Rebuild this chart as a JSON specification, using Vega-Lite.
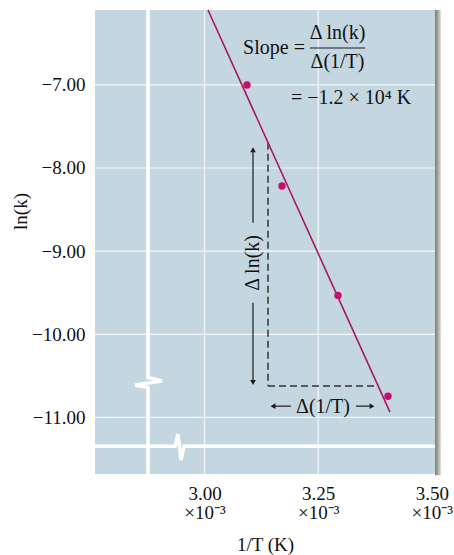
{
  "$schema": "https://vega.github.io/schema/vega-lite/v6.json",
  "width": 340,
  "height": 464,
  "autosize": {"type": "none"},
  "padding": {"left": 95, "top": 10, "right": 19, "bottom": 81},
  "background": "white",
  "config": {
    "view": {"fill": "#c4d7e1", "stroke": null},
    "font": "Liberation Serif"
  },
  "datasets": {
    "grid": [
      {"x": 3.0, "y": -6.1, "x2": 3.0, "y2": -11.68},
      {"x": 3.25, "y": -6.1, "x2": 3.25, "y2": -11.68},
      {"x": 2.759, "y": -7, "x2": 3.507, "y2": -7},
      {"x": 2.759, "y": -8, "x2": 3.507, "y2": -8},
      {"x": 2.759, "y": -9, "x2": 3.507, "y2": -9},
      {"x": 2.759, "y": -10, "x2": 3.507, "y2": -10},
      {"x": 2.759, "y": -11, "x2": 3.507, "y2": -11}
    ],
    "breaks": [
      {"seg": "v", "ord": 0, "x": 2.8756, "y": -6.1},
      {"seg": "v", "ord": 1, "x": 2.8756, "y": -10.52},
      {"seg": "v", "ord": 2, "x": 2.9064, "y": -10.561},
      {"seg": "v", "ord": 3, "x": 2.847, "y": -10.61},
      {"seg": "v", "ord": 4, "x": 2.8756, "y": -10.64},
      {"seg": "v", "ord": 5, "x": 2.8756, "y": -11.68},
      {"seg": "h", "ord": 0, "x": 2.759, "y": -11.345},
      {"seg": "h", "ord": 1, "x": 2.935, "y": -11.345},
      {"seg": "h", "ord": 2, "x": 2.9416, "y": -11.2},
      {"seg": "h", "ord": 3, "x": 2.9482, "y": -11.513},
      {"seg": "h", "ord": 4, "x": 2.9548, "y": -11.345},
      {"seg": "h", "ord": 5, "x": 3.507, "y": -11.345}
    ],
    "shadow": [{"x": 3.507, "x2": 3.521, "y": -6.1, "y2": -11.695}],
    "fit": [{"x": 3.0076, "y": -6.1, "x2": 3.408, "y2": -10.936}],
    "dashes": [
      {"x": 3.1396, "y": -7.695, "x2": 3.1396, "y2": -10.623},
      {"x": 3.1396, "y": -10.623, "x2": 3.382, "y2": -10.623}
    ],
    "shafts": [
      {"x": 3.1066, "y": -7.78, "x2": 3.1066, "y2": -8.66},
      {"x": 3.1066, "y": -9.62, "x2": 3.1066, "y2": -10.58},
      {"x": 3.1506, "y": -10.864, "x2": 3.19, "y2": -10.864},
      {"x": 3.333, "y": -10.864, "x2": 3.3684, "y2": -10.864},
      {"x": 3.232, "y": -6.557, "x2": 3.353, "y2": -6.557}
    ],
    "heads": [
      {"x": 3.1066, "y": -7.78, "shape": "triangle-up"},
      {"x": 3.1066, "y": -10.58, "shape": "triangle-down"},
      {"x": 3.1506, "y": -10.864, "shape": "triangle-left"},
      {"x": 3.3684, "y": -10.864, "shape": "triangle-right"}
    ],
    "texts": [
      {"x": 3.1528, "y": -6.557, "label": "Slope ="},
      {"x": 3.2925, "y": -6.38, "label": "Δ ln(k)"},
      {"x": 3.2925, "y": -6.72, "label": "Δ(1/T)"},
      {"x": 3.3222, "y": -7.16, "label": "= −1.2 × 10⁴ K"},
      {"x": 3.2606, "y": -10.876, "label": "Δ(1/T)"}
    ],
    "rtexts": [
      {"x": 3.1066, "y": -9.141, "label": "Δ ln(k)"}
    ],
    "points": [
      {"x": 3.0934, "y": -7.002},
      {"x": 3.1704, "y": -8.217},
      {"x": 3.2936, "y": -9.532},
      {"x": 3.4036, "y": -10.744}
    ]
  },
  "encoding": {
    "x": {
      "field": "x",
      "type": "quantitative",
      "scale": {"domain": [2.759, 3.507], "nice": false, "zero": false},
      "axis": {
        "title": "1/T (K)",
        "values": [3.0, 3.25, 3.5],
        "labelExpr": "[format(datum.value, '.2f'), '×10⁻³']",
        "grid": false,
        "ticks": false,
        "domain": false,
        "labelFont": "Liberation Serif",
        "labelFontSize": 19,
        "labelColor": "#111111",
        "labelPadding": 10,
        "labelLineHeight": 19,
        "labelFlush": false,
        "labelOverlap": false,
        "labelBaseline": "top",
        "titleFont": "Liberation Serif",
        "titleFontSize": 19,
        "titleFontWeight": "normal",
        "titleColor": "#111111",
        "titleY": 61,
        "titleBaseline": "top"
      }
    },
    "y": {
      "field": "y",
      "type": "quantitative",
      "scale": {"domain": [-11.68, -6.1], "nice": false, "zero": false},
      "axis": {
        "title": "ln(k)",
        "values": [-7, -8, -9, -10, -11],
        "format": ".2f",
        "grid": false,
        "ticks": false,
        "domain": false,
        "labelFont": "Liberation Serif",
        "labelFontSize": 19,
        "labelColor": "#111111",
        "labelPadding": 10,
        "titleFont": "Liberation Serif",
        "titleFontSize": 19,
        "titleFontWeight": "normal",
        "titleColor": "#111111",
        "titleX": -75,
        "titleY": 201,
        "titleBaseline": "middle"
      }
    }
  },
  "layer": [
    {
      "data": {"name": "grid"},
      "mark": {"type": "rule", "color": "#f2f7fa", "strokeWidth": 1.2},
      "encoding": {"x2": {"field": "x2"}, "y2": {"field": "y2"}}
    },
    {
      "data": {"name": "breaks"},
      "mark": {"type": "line", "color": "#ffffff", "strokeWidth": 3.5, "strokeJoin": "miter"},
      "encoding": {
        "detail": {"field": "seg", "type": "nominal"},
        "order": {"field": "ord", "type": "quantitative"}
      }
    },
    {
      "data": {"name": "shadow"},
      "mark": {
        "type": "rect",
        "color": {
          "gradient": "linear",
          "x1": 0, "x2": 1, "y1": 0, "y2": 0,
          "stops": [
            {"offset": 0, "color": "#7f7f74"},
            {"offset": 0.5, "color": "#a9a99f"},
            {"offset": 1, "color": "#eeeeea"}
          ]
        }
      },
      "encoding": {"x2": {"field": "x2"}, "y2": {"field": "y2"}}
    },
    {
      "data": {"name": "dashes"},
      "mark": {"type": "rule", "color": "#333333", "strokeWidth": 1.5, "strokeDash": [7, 4]},
      "encoding": {"x2": {"field": "x2"}, "y2": {"field": "y2"}}
    },
    {
      "data": {"name": "shafts"},
      "mark": {"type": "rule", "color": "#1a1a1a", "strokeWidth": 1.2},
      "encoding": {"x2": {"field": "x2"}, "y2": {"field": "y2"}}
    },
    {
      "data": {"name": "heads"},
      "mark": {"type": "point", "filled": true, "color": "#1a1a1a", "opacity": 1, "size": 32},
      "encoding": {"shape": {"field": "shape", "type": "nominal", "scale": null}}
    },
    {
      "data": {"name": "fit"},
      "mark": {"type": "rule", "color": "#a8185f", "strokeWidth": 1.6},
      "encoding": {"x2": {"field": "x2"}, "y2": {"field": "y2"}}
    },
    {
      "data": {"name": "points"},
      "mark": {"type": "point", "filled": true, "color": "#c4106c", "opacity": 1, "size": 55}
    },
    {
      "data": {"name": "texts"},
      "mark": {"type": "text", "font": "Liberation Serif", "fontSize": 20, "color": "#111111", "align": "center", "baseline": "middle"},
      "encoding": {"text": {"field": "label", "type": "nominal"}}
    },
    {
      "data": {"name": "rtexts"},
      "mark": {"type": "text", "font": "Liberation Serif", "fontSize": 20, "color": "#111111", "align": "center", "baseline": "middle", "angle": 270},
      "encoding": {"text": {"field": "label", "type": "nominal"}}
    }
  ]
}
